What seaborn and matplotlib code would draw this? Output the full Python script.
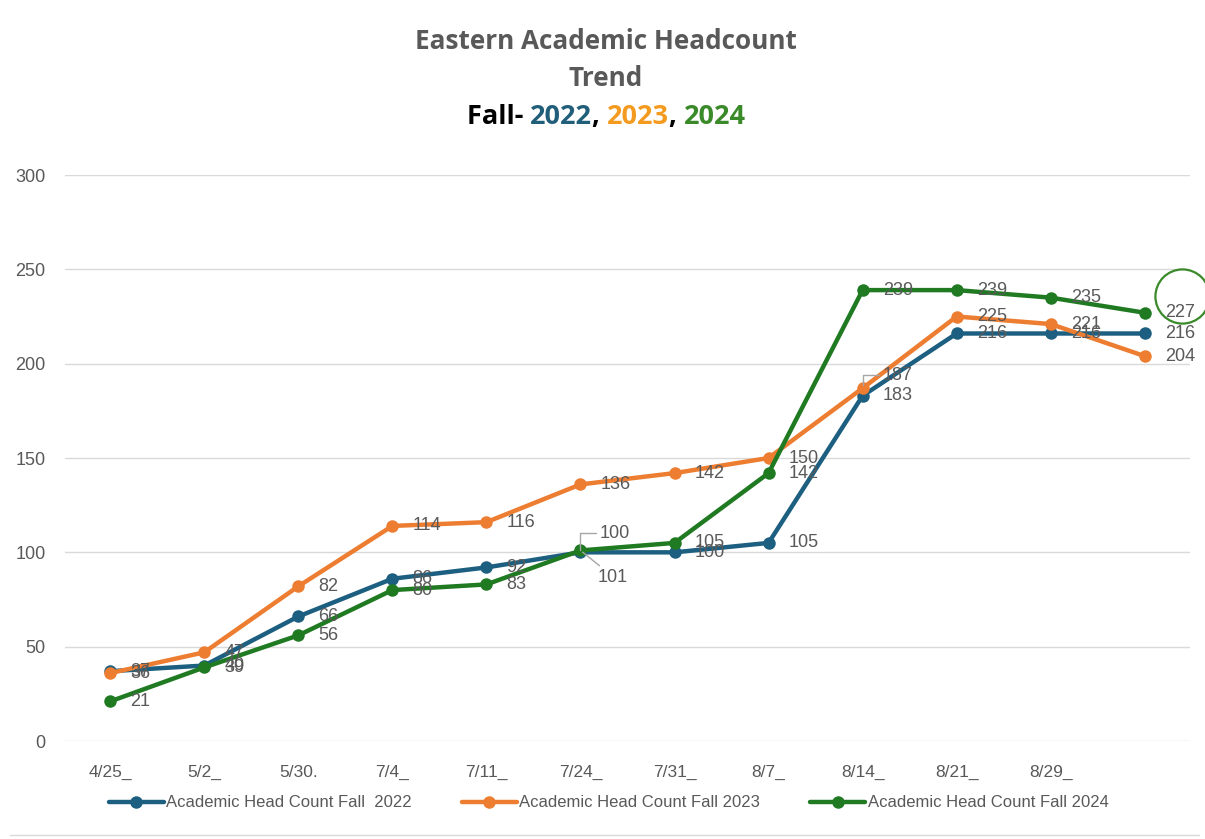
import numpy as np
import pandas as pd
import seaborn as sns
import matplotlib.pyplot as plt
from matplotlib.offsetbox import TextArea, HPacker, AnnotationBbox

# data
weeks = ["4/25_", "5/2_", "5/30.", "7/4_", "7/11_", "7/24_", "7/31_", "8/7_",
         "8/14_", "8/21_", "8/29_", ""]
fall_2022 = [37, 40, 66, 86, 92, 100, 100, 105, 183, 216, 216, 216]
fall_2023 = [36, 47, 82, 114, 116, 136, 142, 150, 187, 225, 221, 204]
fall_2024 = [21, 39, 56, 80, 83, 101, 105, 142, 239, 239, 235, 227]
series_names = ["Academic Head Count Fall  2022",
                "Academic Head Count Fall 2023",
                "Academic Head Count Fall 2024"]

colors = ["#1D5F80", "#ED7D31", "#1F7A22"]
gray = "#595959"

sns.set_style("white")
plt.rcParams["font.family"] = ["Liberation Sans", "DejaVu Sans"]

rows = []
for name, vals in zip(series_names, [fall_2022, fall_2023, fall_2024]):
    for i, v in enumerate(vals):
        rows.append({"idx": i, "count": v, "series": name})
df = pd.DataFrame(rows)

fig = plt.figure(figsize=(12.05, 8.39), dpi=100)
ax = fig.add_axes([0.054, 0.1168, 0.9335, 0.6746])

sns.lineplot(data=df, x="idx", y="count", hue="series", palette=colors,
             marker="o", markersize=9, markeredgewidth=0, linewidth=3.2,
             ax=ax, legend=True)

ax.set_xlim(-0.48, len(weeks) - 0.52)
ax.set_ylim(0, 300)
ax.set_yticks(range(0, 301, 50))
ax.set_xticks(range(len(weeks)))
ax.set_xticklabels(weeks, fontsize=12.5, color=gray)
ax.tick_params(axis="y", labelsize=13, labelcolor=gray, length=0, pad=14)
ax.tick_params(axis="x", length=0, pad=17)
ax.yaxis.grid(True, color="#D9D9D9", linewidth=1)
ax.set_axisbelow(True)
for s in ax.spines.values():
    s.set_visible(False)
ax.set_xlabel("")
ax.set_ylabel("")

# data labels (right of each point); a few are moved with leader lines
special = {(0, 5): (19, 19), (2, 5): (17, -27), (1, 8): (20, 13)}
for si, vals in enumerate([fall_2022, fall_2023, fall_2024]):
    for i, v in enumerate(vals):
        off = special.get((si, i), (20, 0))
        kw = {}
        if (si, i) in [(0, 5), (1, 8)]:
            kw["arrowprops"] = dict(arrowstyle="-", color="#A6A6A6", lw=1,
                                    shrinkA=0, shrinkB=2, relpos=(0, 0.5),
                                    connectionstyle="angle,angleA=180,angleB=90,rad=0")
        elif (si, i) == (2, 5):
            kw["arrowprops"] = dict(arrowstyle="-", color="#A6A6A6", lw=1,
                                    shrinkA=0, shrinkB=2, relpos=(0.2, 1))
        ax.annotate(str(v), (i, v), xytext=off, textcoords="offset pixels",
                    ha="left", va="center", fontsize=13, color=gray, **kw)

# circle drawn around the last 2024 value
ax.plot([11.4], [236], marker="o", markersize=39, fillstyle="none",
        markeredgecolor="#3A8A2A", markeredgewidth=1.6, clip_on=False,
        linestyle="none")

# legend below the axis
handles, labels = ax.get_legend_handles_labels()
ax.legend_.remove()
fig.legend(handles, labels, loc="center", bbox_to_anchor=(0.505, 0.043),
           ncol=3, frameon=False, handlelength=3.3, handletextpad=0.15,
           columnspacing=3.0, prop={"size": 12},
           labelcolor=gray)

# title
tfont = ["Open Sans", "DejaVu Sans"]
fig.text(0.503, 0.950, "Eastern Academic Headcount", ha="center", va="center",
         fontsize=18.8, fontweight="bold", color=gray, family=tfont)
fig.text(0.503, 0.907, "Trend", ha="center", va="center",
         fontsize=18.8, fontweight="bold", color=gray, family=tfont)
parts = [("Fall- ", "black"), ("2022", "#215E79"), (", ", "black"),
         ("2023", "#F39A1F"), (", ", "black"), ("2024", "#3A8A2A")]
boxes = [TextArea(t, textprops=dict(color=c, fontsize=19.5, fontweight="bold",
                                    family=tfont)) for t, c in parts]
pack = HPacker(children=boxes, align="baseline", pad=0, sep=0)
ab = AnnotationBbox(pack, (0.503, 0.861), xycoords="figure fraction",
                    frameon=False, box_alignment=(0.5, 0.5))
fig.add_artist(ab)

# faint frame line at the bottom like the source
fig.add_artist(plt.Line2D([0.008, 0.995], [0.005, 0.005], color="#D9D9D9", lw=1))

fig.savefig("out.png", dpi=100)
